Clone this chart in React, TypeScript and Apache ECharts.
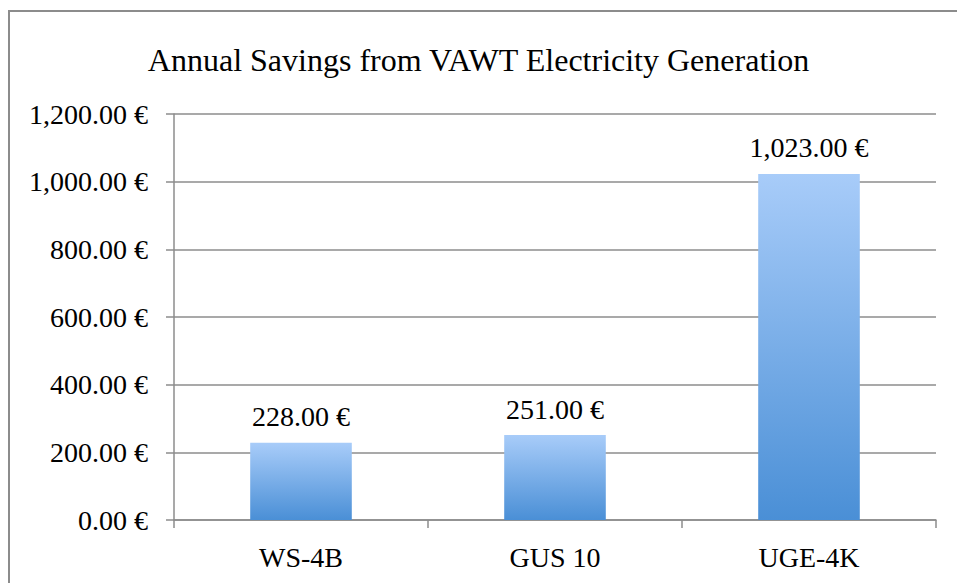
import React, { useEffect, useRef } from "react";
import * as echarts from "echarts";

const categories = ["WS-4B", "GUS 10", "UGE-4K"];
const savings = [228, 251, 1023];
const yTicks = { min: 0, max: 1200, interval: 200 };
const titleText = "Annual Savings from VAWT Electricity Generation";

const FONT = "Liberation Serif";
const fmt = (v: number) =>
  v.toLocaleString("en-US", { minimumFractionDigits: 2, maximumFractionDigits: 2 }) + " €";

export default function App() {
  const ref = useRef<HTMLDivElement>(null);
  useEffect(() => {
    document.body.style.margin = "0";
    const chart = echarts.init(ref.current!, null, { renderer: "svg" });
    const lineColor = "#8c8c8c";
    chart.setOption({
      animation: false,
      backgroundColor: "#ffffff",
      title: {
        text: titleText,
        left: "center",
        top: 39,
        textStyle: { fontFamily: FONT, fontSize: 32, fontWeight: "normal", color: "#000" },
      },
      graphic: [
        {
          type: "rect",
          shape: { x: 9, y: 11, width: 1000, height: 700 },
          style: { fill: "none", stroke: lineColor, lineWidth: 2 },
          silent: true,
        },
      ],
      grid: { left: 174, right: 21, top: 114, bottom: 63 },
      xAxis: {
        type: "category",
        data: categories,
        axisLine: { lineStyle: { color: lineColor, width: 1.5 } },
        axisTick: { show: true, length: 8, lineStyle: { color: lineColor, width: 1.5 } },
        axisLabel: { fontFamily: FONT, fontSize: 28, color: "#000", margin: 23 },
      },
      yAxis: {
        type: "value",
        min: yTicks.min,
        max: yTicks.max,
        interval: yTicks.interval,
        axisLine: { show: true, lineStyle: { color: lineColor, width: 1.5 } },
        axisTick: { show: true, length: 8, lineStyle: { color: lineColor, width: 1.5 } },
        splitLine: { lineStyle: { color: lineColor, width: 1.5 } },
        axisLabel: { fontFamily: FONT, fontSize: 28, color: "#000", margin: 26, formatter: fmt },
      },
      series: [
        {
          type: "bar",
          data: savings,
          barWidth: "40%",
          itemStyle: {
            color: new echarts.graphic.LinearGradient(0, 0, 0, 1, [
              { offset: 0, color: "#a8ccf9" },
              { offset: 1, color: "#4a8fd6" },
            ]),
          },
          label: {
            show: true,
            position: "top",
            distance: 12,
            fontFamily: FONT,
            fontSize: 28,
            color: "#000",
            formatter: (p: any) => fmt(p.value),
          },
        },
      ],
    });
    return () => chart.dispose();
  }, []);
  return <div ref={ref} style={{ width: 957, height: 583 }} />;
}
